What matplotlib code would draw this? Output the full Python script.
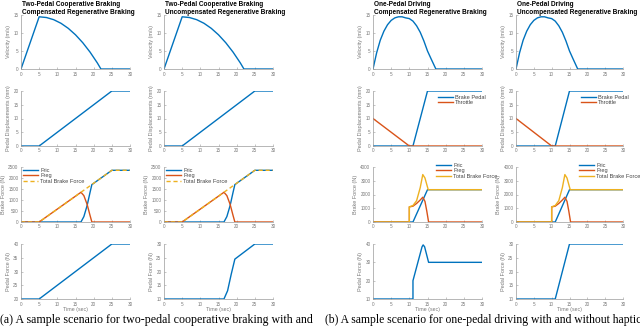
import matplotlib
matplotlib.use("Agg")
import matplotlib.pyplot as plt

# ---------------- data ----------------
# Two-pedal cooperative braking (columns 1 and 2)
tp_vel_t = [0, 5, 7, 9, 11, 13, 15, 17, 19, 21, 22, 30]
tp_vel = [0, 14.5, 14.3, 13.7, 12.7, 11.3, 9.5, 7.3, 4.7, 1.7, 0, 0]
tp_disp_t = [0, 5, 25, 30]
tp_disp = [0, 0, 20, 20]
tp_fric_t = [0, 16.5, 17.3, 18.2, 19.0, 19.5, 25, 30]
tp_fric = [0, 0, 245, 750, 1345, 1700, 2350, 2350]
tp_freg_t = [0, 5, 16.5, 17.3, 18.2, 19.0, 19.5, 30]
tp_freg = [0, 0, 1350, 1200, 800, 300, 0, 0]
tp_total_t = [0, 5, 25, 30]
tp_total = [0, 0, 2350, 2350]
tp_pf_comp_t = [0, 5, 25, 30]
tp_pf_comp = [20, 20, 40, 40]
tp_pf_unc_t = [0, 16.5, 17.5, 18.5, 19.5, 25, 30]
tp_pf_unc = [10, 10, 13, 19, 24.5, 30, 30]

# One-pedal driving (columns 3 and 4)
op_vel_t = [0, 1, 2, 3, 4, 5, 6, 7, 8, 9, 10, 11, 12, 13, 14, 15, 16, 17.3, 30]
op_vel = [0, 4.5, 8, 10.5, 12.3, 13.5, 14.2, 14.5, 14.5, 14.2, 14.0, 13.3, 12.0, 10.2, 7.8, 5.0, 2.8, 0, 0]
op_brake_t = [0, 11, 15, 30]
op_brake = [0, 0, 20, 20]
op_throttle_t = [0, 10, 30]
op_throttle = [10, 0, 0]
op_fric_t = [0, 11, 15, 30]
op_fric = [0, 0, 2350, 2350]
op_freg_t = [0, 10, 10, 11, 12, 13, 13.7, 14.3, 14.8, 15.3, 30]
op_freg = [0, 0, 1100, 1150, 1350, 1600, 1800, 1500, 800, 0, 0]
op_total_t = [0, 10, 10, 11, 12, 13, 13.7, 14.3, 15.2, 30]
op_total = [0, 0, 1100, 1200, 1550, 2500, 3450, 3200, 2350, 2350]
op_pf_comp_t = [0, 11, 11, 13.5, 13.8, 14.2, 15.3, 30]
op_pf_comp = [10, 10, 20, 38.5, 39.5, 38.5, 30, 30]
op_pf_unc_t = [0, 11, 15, 30]
op_pf_unc = [10, 10, 30, 30]

titles = [
    "Two-Pedal Cooperative Braking\nCompensated Regenerative Braking",
    "Two-Pedal Cooperative Braking\nUncompensated Regenerative Braking",
    "One-Pedal Driving\nCompensated Regenerative Braking",
    "One-Pedal Driving\nUncompensated Regenerative Braking",
]
ylabels = ["Velocity (m/s)", "Pedal Displacements (mm)", "Brake Force (N)", "Pedal Force (N)"]
xlabel = "Time (sec)"
captions = [
    "(a) A sample scenario for two-pedal cooperative braking with and",
    "(b) A sample scenario for one-pedal driving with and without haptic",
]

# ---------------- style ----------------
BLUE, ORANGE, YELLOW = "#0072BD", "#D95319", "#EDB120"
AX_COL = "#9a9a9a"
TXT_COL = "#7a7a7a"
SANS = ["Liberation Sans Narrow", "Liberation Sans", "DejaVu Sans"]
plt.rcParams["font.family"] = SANS

W, H = 640, 329
fig = plt.figure(figsize=(W / 100, H / 100), dpi=100)

cols = [(21, 130), (164, 273), (373, 482), (516, 623)]
rows = [(15, 69), (91, 146), (167, 222), (244, 299)]


def make_ax(c, r):
    x0, x1 = cols[c]
    y0, y1 = rows[r]
    ax = fig.add_axes([x0 / W, 1 - y1 / H, (x1 - x0) / W, (y1 - y0) / H])
    for s in ("top", "right"):
        ax.spines[s].set_visible(False)
    for s in ("left", "bottom"):
        ax.spines[s].set_color(AX_COL)
        ax.spines[s].set_linewidth(0.5)
    ax.tick_params(direction="in", length=1.5, width=0.4, colors=AX_COL,
                   labelcolor=TXT_COL, labelsize=3.3, pad=1.8)
    ax.set_xlim(0, 30)
    ax.set_xticks(range(0, 31, 5))
    ax.set_ylabel(ylabels[r], fontsize=4.0, color=TXT_COL, labelpad=1.5)
    if r == 3:
        ax.set_xlabel(xlabel, fontsize=3.8, color=TXT_COL, labelpad=0.5)
    return ax


LW = 1.0
leg_kw = dict(frameon=False, fontsize=4.1, labelspacing=0.05, handlelength=2.6,
              handletextpad=0.4, borderpad=0, borderaxespad=0, labelcolor="#444444")

for c in range(4):
    two = c < 2
    comp = c % 2 == 0
    # velocity
    ax = make_ax(c, 0)
    if two:
        ax.plot(tp_vel_t, tp_vel, color=BLUE, lw=LW)
    else:
        ax.plot(op_vel_t, op_vel, color=BLUE, lw=LW)
    ax.set_ylim(0, 15)
    ax.set_yticks([0, 5, 10, 15])

    # pedal displacements
    ax = make_ax(c, 1)
    if two:
        ax.plot(tp_disp_t, tp_disp, color=BLUE, lw=LW)
    else:
        ax.plot(op_brake_t, op_brake, color=BLUE, lw=LW, label="Brake Pedal")
        ax.plot(op_throttle_t, op_throttle, color=ORANGE, lw=LW, label="Throttle")
        x0, x1 = cols[c]
        ax.legend(loc="upper left", bbox_to_anchor=((x0 + 65) / W, 1 - 95 / H),
                  bbox_transform=fig.transFigure, **leg_kw)
    ax.set_ylim(0, 20)
    ax.set_yticks(range(0, 21, 5))

    # brake force
    ax = make_ax(c, 2)
    x0, x1 = cols[c]
    if two:
        ax.plot(tp_fric_t, tp_fric, color=BLUE, lw=LW, label="Fric")
        ax.plot(tp_freg_t, tp_freg, color=ORANGE, lw=LW, label="Freg")
        ax.plot(tp_total_t, tp_total, color=YELLOW, lw=LW, ls=(0, (3, 2)),
                label="Total Brake Force")
        ax.set_ylim(0, 2500)
        ax.set_yticks(range(0, 2501, 500))
        ax.legend(loc="upper left", bbox_to_anchor=((x0 + 2) / W, 1 - 168 / H),
                  bbox_transform=fig.transFigure, **leg_kw)
    else:
        ax.plot(op_fric_t, op_fric, color=BLUE, lw=LW, label="Fric")
        ax.plot(op_freg_t, op_freg, color=ORANGE, lw=LW, label="Freg")
        ax.plot(op_total_t, op_total, color=YELLOW, lw=LW, label="Total Brake Force")
        ax.set_ylim(0, 4000)
        ax.set_yticks(range(0, 4001, 1000))
        ax.legend(loc="upper left", bbox_to_anchor=((x0 + 63) / W, 1 - 163 / H),
                  bbox_transform=fig.transFigure, **leg_kw)

    # pedal force
    ax = make_ax(c, 3)
    if two and comp:
        ax.plot(tp_pf_comp_t, tp_pf_comp, color=BLUE, lw=LW)
        ax.set_ylim(20, 40)
        ax.set_yticks(range(20, 41, 5))
    elif two:
        ax.plot(tp_pf_unc_t, tp_pf_unc, color=BLUE, lw=LW)
        ax.set_ylim(10, 30)
        ax.set_yticks(range(10, 31, 5))
    elif comp:
        ax.plot(op_pf_comp_t, op_pf_comp, color=BLUE, lw=LW)
        ax.set_ylim(10, 40)
        ax.set_yticks(range(10, 41, 10))
    else:
        ax.plot(op_pf_unc_t, op_pf_unc, color=BLUE, lw=LW)
        ax.set_ylim(10, 30)
        ax.set_yticks(range(10, 31, 5))

    # title
    fig.text((cols[c][0] + 1) / W, 1 - 0.5 / H, titles[c], ha="left", va="top",
             fontsize=4.7, fontweight="bold", color="black", linespacing=1.25,
             family=["Liberation Sans", "DejaVu Sans"])

fig.text(0 / W, 1 - 320 / H, captions[0], ha="left", va="center", fontsize=8.55,
         family=["Liberation Serif", "DejaVu Serif"], color="black")
fig.text(325 / W, 1 - 320 / H, captions[1], ha="left", va="center", fontsize=8.4,
         family=["Liberation Serif", "DejaVu Serif"], color="black")

fig.savefig("out.png", dpi=100)
